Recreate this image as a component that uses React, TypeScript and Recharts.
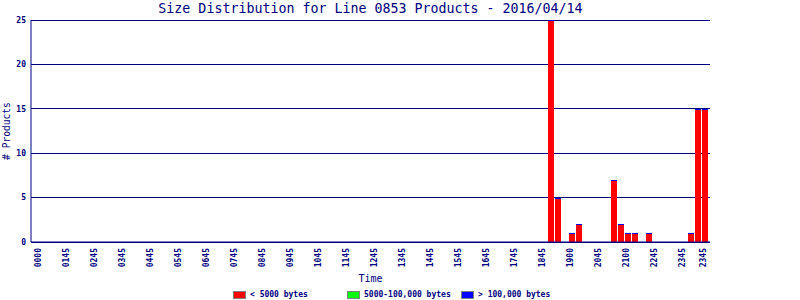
import React from 'react';
import { BarChart, Bar, XAxis, YAxis, CartesianGrid } from 'recharts';

// 15-minute slots, 0000 .. 2345
const times = Array.from({ length: 96 }, (_, i) =>
  String(Math.floor(i / 4)).padStart(2, '0') + String((i % 4) * 15).padStart(2, '0')
);

// one row = 3 hours (12 slots)
const under5000 = [
  0, 0, 0, 0, 0, 0, 0, 0, 0, 0, 0, 0,
  0, 0, 0, 0, 0, 0, 0, 0, 0, 0, 0, 0,
  0, 0, 0, 0, 0, 0, 0, 0, 0, 0, 0, 0,
  0, 0, 0, 0, 0, 0, 0, 0, 0, 0, 0, 0,
  0, 0, 0, 0, 0, 0, 0, 0, 0, 0, 0, 0,
  0, 0, 0, 0, 0, 0, 0, 0, 0, 0, 0, 0,
  0, 25, 5, 0, 1, 2, 0, 0, 0, 0, 7, 2,
  1, 1, 0, 1, 0, 0, 0, 0, 0, 1, 15, 15,
];
const mid = [
  0, 0, 0, 0, 0, 0, 0, 0, 0, 0, 0, 0,
  0, 0, 0, 0, 0, 0, 0, 0, 0, 0, 0, 0,
  0, 0, 0, 0, 0, 0, 0, 0, 0, 0, 0, 0,
  0, 0, 0, 0, 0, 0, 0, 0, 0, 0, 0, 0,
  0, 0, 0, 0, 0, 0, 0, 0, 0, 0, 0, 0,
  0, 0, 0, 0, 0, 0, 0, 0, 0, 0, 0, 0,
  0, 0, 0, 0, 0, 0, 0, 0, 0, 0, 0, 0,
  0, 0, 0, 0, 0, 0, 0, 0, 0, 0, 0, 0,
];
const over100k = [
  0, 0, 0, 0, 0, 0, 0, 0, 0, 0, 0, 0,
  0, 0, 0, 0, 0, 0, 0, 0, 0, 0, 0, 0,
  0, 0, 0, 0, 0, 0, 0, 0, 0, 0, 0, 0,
  0, 0, 0, 0, 0, 0, 0, 0, 0, 0, 0, 0,
  0, 0, 0, 0, 0, 0, 0, 0, 0, 0, 0, 0,
  0, 0, 0, 0, 0, 0, 0, 0, 0, 0, 0, 0,
  0, 0, 0, 0, 0, 0, 0, 0, 0, 0, 0, 0,
  0, 0, 0, 0, 0, 0, 0, 0, 0, 0, 0, 0,
];

const tickTimes = [
  '0000', '0100', '0200', '0300', '0400', '0500', '0600', '0700', '0800', '0900',
  '1000', '1100', '1200', '1300', '1400', '1500', '1600', '1700', '1800', '1900',
  '2000', '2100', '2200', '2300', '2345',
];
const tickLabels = [
  '0000', '0145', '0245', '0345', '0445', '0545', '0645', '0745', '0845', '0945',
  '1045', '1145', '1245', '1345', '1445', '1545', '1645', '1745', '1845', '1900',
  '2045', '2100', '2245', '2345', '2345',
];
const yTicks = [0, 5, 10, 15, 20, 25];

const legendItems = [
  { label: '< 5000 bytes', color: '#ff0000' },
  { label: '5000-100,000 bytes', color: '#00ff00' },
  { label: '> 100,000 bytes', color: '#0000ff' },
];

const data = times.map((t, i) => ({
  time: t,
  small: under5000[i],
  mid: mid[i],
  large: over100k[i],
}));

const NAVY = '#000080';
const MONO = '"DejaVu Sans Mono", monospace';

const XTick = (props: any) => {
  const { x, y, payload } = props;
  const idx = tickTimes.indexOf(payload.value);
  return (
    <text
      transform={`translate(${x - 1},${y}) rotate(-90)`}
      textAnchor="end"
      dy="0.35em"
      fill={NAVY}
      fontSize={8}
      fontWeight="bold"
      fontFamily={MONO}
    >
      {idx >= 0 ? tickLabels[idx] : payload.value}
    </text>
  );
};

// red bar; the old chart leaves a 1px blue cap where the empty upper segments sit
const SmallShape = (props: any) => {
  const { x, y, width, height, payload } = props;
  if (!(height > 0)) return null;
  const top = Math.round(y);
  return (
    <g shapeRendering="crispEdges">
      <rect x={x} y={top} width={width} height={Math.round(y + height) - top} fill="#ff0000" />
      {payload.large === 0 && <rect x={x} y={top} width={width} height={1} fill="#0000ff" />}
    </g>
  );
};

export default function App() {
  return (
    <div style={{ position: 'absolute', left: 0, top: 0, width: 800, height: 300, background: '#fff' }}>
      <div
        style={{
          position: 'absolute', left: 31, width: 679, top: 1, textAlign: 'center',
          fontFamily: MONO, fontSize: 13.3, color: NAVY, lineHeight: '15px', whiteSpace: 'nowrap',
        }}
      >
        Size Distribution for Line 0853 Products - 2016/04/14
      </div>
      <BarChart
        width={800}
        height={300}
        data={data}
        margin={{ top: 20, right: 90, bottom: 0, left: 0 }}
        barCategoryGap={0}
        barGap={0}
      >
        <CartesianGrid yAxisId="left" stroke={NAVY} vertical={false} shapeRendering="crispEdges" />
        <XAxis
          dataKey="time"
          ticks={tickTimes}
          interval={0}
          tick={<XTick />}
          tickLine={false}
          tickSize={0}
          tickMargin={6}
          height={58}
          padding={{ left: 5, right: 2 }}
          axisLine={{ stroke: NAVY }}
          label={{ value: 'Time', position: 'insideBottom', offset: 18, fill: NAVY, fontSize: 10, fontFamily: MONO }}
        />
        <YAxis
          yAxisId="left"
          domain={[0, 25]}
          ticks={yTicks}
          width={31}
          tickLine={false}
          tickSize={0}
          tickMargin={5}
          axisLine={{ stroke: NAVY }}
          tick={{ fill: NAVY, fontSize: 8, fontWeight: 'bold', fontFamily: MONO }}
          label={{ value: '# Products', angle: -90, position: 'insideLeft', offset: 7, fill: NAVY, fontSize: 9.6, fontFamily: MONO, style: { textAnchor: 'middle' } }}
        />
        <YAxis yAxisId="right" orientation="right" width={0} tick={false} tickLine={false} axisLine={{ stroke: NAVY }} domain={[0, 25]} />
        <Bar yAxisId="left" dataKey="small" stackId="s" fill="#ff0000" barSize={6} shape={<SmallShape />} isAnimationActive={false} />
        <Bar yAxisId="left" dataKey="mid" stackId="s" fill="#00ff00" barSize={6} isAnimationActive={false} />
        <Bar yAxisId="left" dataKey="large" stackId="s" fill="#0000ff" barSize={6} isAnimationActive={false} />
      </BarChart>
      <div style={{ position: 'absolute', left: 233, top: 291, display: 'flex' }}>
        {legendItems.map((it) => (
          <div key={it.label} style={{ width: 114, display: 'flex', alignItems: 'center' }}>
            <div style={{ width: 11, height: 6, border: '1px solid #808080', background: it.color, marginRight: 4 }} />
            <span style={{ fontFamily: MONO, fontSize: 8, fontWeight: 'bold', color: NAVY, lineHeight: '8px', whiteSpace: 'nowrap' }}>{it.label}</span>
          </div>
        ))}
      </div>
    </div>
  );
}
